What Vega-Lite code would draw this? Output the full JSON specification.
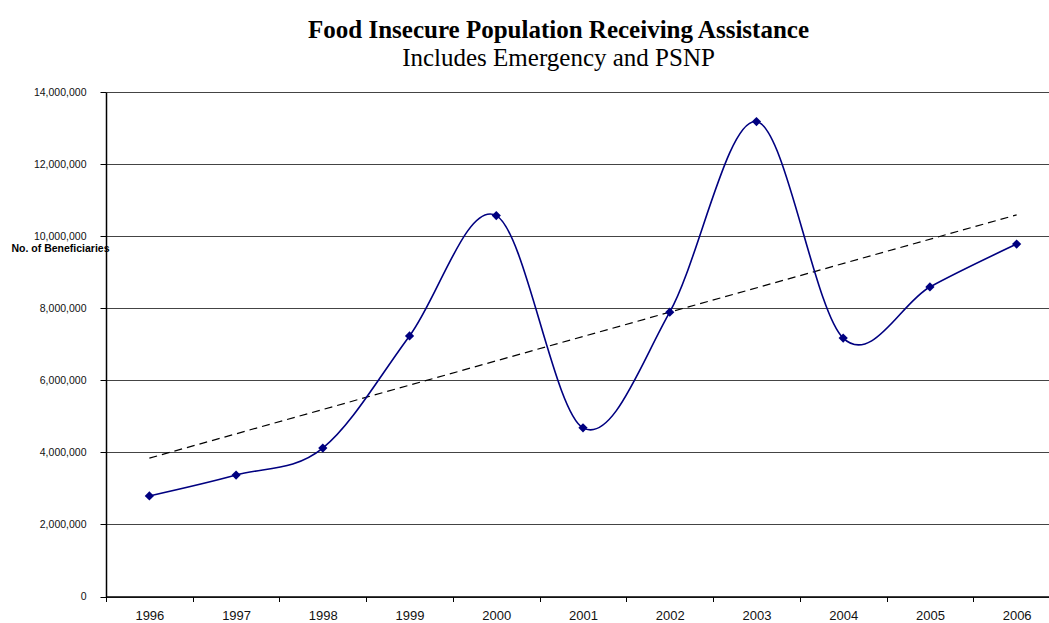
{
  "$schema": "https://vega.github.io/schema/vega-lite/v6.json",
  "width": 943,
  "height": 504.5,
  "autosize": {"type": "none"},
  "padding": {"left": 106, "top": 92, "right": 0, "bottom": 26.5},
  "background": "white",
  "title": {
    "text": "Food Insecure Population Receiving Assistance",
    "subtitle": "Includes Emergency and PSNP",
    "font": "Liberation Serif",
    "fontSize": 25,
    "fontWeight": "bold",
    "color": "black",
    "subtitleFont": "Liberation Serif",
    "subtitleFontSize": 25,
    "subtitleFontWeight": "normal",
    "subtitleColor": "black",
    "subtitlePadding": 3,
    "anchor": "middle",
    "dx": -19,
    "offset": 16
  },
  "datasets": {
    "beneficiaries": [
      {"year": "1996", "value": 2790000},
      {"year": "1997", "value": 3370000},
      {"year": "1998", "value": 4120000},
      {"year": "1999", "value": 7230000},
      {"year": "2000", "value": 10570000},
      {"year": "2001", "value": 4680000},
      {"year": "2002", "value": 7890000},
      {"year": "2003", "value": 13180000},
      {"year": "2004", "value": 7170000},
      {"year": "2005", "value": 8590000},
      {"year": "2006", "value": 9780000}
    ],
    "trend": [
      {"year": "1996", "value": 3840000},
      {"year": "2006", "value": 10590000}
    ]
  },
  "config": {
    "view": {"stroke": null},
    "axis": {
      "labelFont": "Liberation Sans",
      "titleFont": "Liberation Sans",
      "labelColor": "#111111",
      "domainColor": "black",
      "tickColor": "black"
    }
  },
  "layer": [
    {
      "data": {"name": "trend"},
      "mark": {"type": "line", "color": "black", "strokeWidth": 1.2, "strokeDash": [8, 5]},
      "encoding": {
        "x": {
          "field": "year",
          "type": "ordinal",
          "sort": null,
          "scale": {"type": "band", "range": [0, 954], "paddingInner": 0, "paddingOuter": 0,
                    "domain": ["1996","1997","1998","1999","2000","2001","2002","2003","2004","2005","2006"]},
          "axis": {
            "title": null,
            "labelAngle": 0,
            "labelFontSize": 13,
            "labelPadding": 8,
            "tickBand": "extent",
            "tickSize": 5,
            "domainWidth": 1.5,
            "grid": false
          }
        },
        "y": {
          "field": "value",
          "type": "quantitative",
          "scale": {"domain": [0, 14000000], "nice": false},
          "axis": {
            "values": [0, 2000000, 4000000, 6000000, 8000000, 10000000, 12000000, 14000000],
            "format": ",d",
            "labelFontSize": 10.5,
            "labelPadding": 14,
            "tickSize": 6,
            "domainWidth": 1.5,
            "grid": true,
            "gridColor": "#444444",
            "gridWidth": 1,
            "title": "No. of Beneficiaries",
            "titleAngle": 0,
            "titleAlign": "left",
            "titleBaseline": "middle",
            "titleFontSize": 10.5,
            "titleFontWeight": "bold",
            "titleColor": "black",
            "titleX": -95,
            "titleY": 156
          }
        }
      }
    },
    {
      "data": {"name": "beneficiaries"},
      "mark": {"type": "line", "color": "#000080", "strokeWidth": 1.6, "interpolate": "cardinal", "tension": 0},
      "encoding": {
        "x": {"field": "year", "type": "ordinal", "sort": null},
        "y": {"field": "value", "type": "quantitative"}
      }
    },
    {
      "data": {"name": "beneficiaries"},
      "mark": {"type": "point", "shape": "diamond", "filled": true, "color": "#000080", "size": 85, "opacity": 1},
      "encoding": {
        "x": {"field": "year", "type": "ordinal", "sort": null},
        "y": {"field": "value", "type": "quantitative"}
      }
    }
  ]
}
